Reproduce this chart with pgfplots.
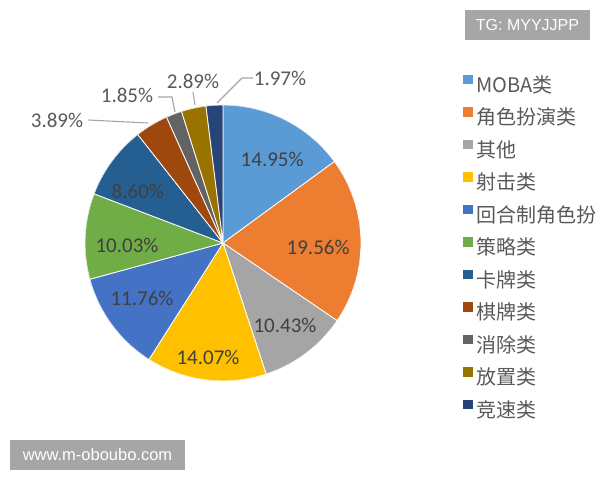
\documentclass[border=0pt]{standalone}
\usepackage{pgfplots}
\pgfplotsset{compat=1.18}
\usepgfplotslibrary{polar}
\usepackage{fontspec}
\setmainfont{Noto Sans CJK SC}
\newfontfamily\carlito{Carlito}
\newfontfamily\arialf{Liberation Sans}
\definecolor{c1}{HTML}{5B9BD5}
\definecolor{c2}{HTML}{ED7D31}
\definecolor{c3}{HTML}{A5A5A5}
\definecolor{c4}{HTML}{FFC000}
\definecolor{c5}{HTML}{4472C4}
\definecolor{c6}{HTML}{70AD47}
\definecolor{c7}{HTML}{255E91}
\definecolor{c8}{HTML}{9E480E}
\definecolor{c9}{HTML}{636363}
\definecolor{c10}{HTML}{997300}
\definecolor{c11}{HTML}{264478}
\definecolor{lbl}{HTML}{404040}
\definecolor{lblo}{HTML}{595959}
\definecolor{leg}{HTML}{595959}
\definecolor{wm}{HTML}{A6A6A6}
\definecolor{leader}{HTML}{A6A6A6}
\gdef\cum{0}
% #1 value (percent), #2 colour, #3 legend text
\newcommand\slice[3]{%
  \pgfmathsetmacro\sa{90-3.6*(\cum+#1)}%
  \pgfmathsetmacro\sb{90-3.6*\cum}%
  \edef\doslice{\noexpand\addplot[fill=#2, draw=white, line width=0.8bp, domain=\sa:\sb, samples=80] {1} -- (axis cs:0,0) -- cycle;}%
  \doslice
  \addlegendentry{#3}
  \pgfmathsetmacro\newcum{\cum+#1}\global\let\cum\newcum
}
\begin{document}
\begin{tikzpicture}[x=1bp,y=1bp]
\useasboundingbox (0,0) rectangle (600,480);
\begin{polaraxis}[
  at={(223bp,237bp)}, anchor=origin,
  scale only axis, width=276bp, height=276bp,
  ymin=0, ymax=1, hide axis,
  legend cell align=left,
  legend image code/.code={\fill[#1,draw=none] (0bp,2.8bp) rectangle (9.5bp,12.3bp);},
  legend style={draw=none, fill=none, inner sep=0pt, at={(1.3696,1.111)}, anchor=north west,
    font=\fontsize{20bp}{23bp}\selectfont, text=leg, row sep=10.7bp, column sep=3.5bp,
    nodes={inner sep=0pt, text height=15bp, text depth=4bp}},
]
\slice{14.95}{c1}{MOBA类}
\slice{19.56}{c2}{角色扮演类}
\slice{10.43}{c3}{其他}
\slice{14.07}{c4}{射击类}
\slice{11.76}{c5}{回合制角色扮}
\slice{10.03}{c6}{策略类}
\slice{8.60}{c7}{卡牌类}
\slice{3.89}{c8}{棋牌类}
\slice{1.85}{c9}{消除类}
\slice{2.89}{c10}{放置类}
\slice{1.97}{c11}{竞速类}
\begin{scope}[every node/.style={font=\carlito\fontsize{21bp}{24bp}\selectfont, text=lbl, inner sep=0pt}]
\node at (axis cs:59.4,0.70) {14.95\%};
\node at (axis cs:-2.4,0.69) {19.56\%};
\node at (axis cs:-52.9,0.745) {10.43\%};
\node at (axis cs:-97.5,0.833) {14.07\%};
\node at (axis cs:-145.8,0.71) {11.76\%};
\node at (axis cs:-178.8,0.696) {10.03\%};
\node at (axis cs:149,0.72) {8.60\%};
\end{scope}
\end{polaraxis}
\draw[leader, line width=1.1bp] (88,360)--(148,357);
\draw[leader, line width=1.1bp] (158,383)--(172,383)--(175,368);
\draw[leader, line width=1.1bp] (193,388)--(195,375);
\draw[leader, line width=1.1bp] (253,402)--(242,402)--(217,377);
\begin{scope}[every node/.style={font=\carlito\fontsize{21bp}{24bp}\selectfont, text=lblo, inner sep=0pt}]
\node at (57,360) {3.89\%};
\node at (127,385) {1.85\%};
\node at (193,399) {2.89\%};
\node at (280,402) {1.97\%};
\end{scope}
\fill[wm] (465,440) rectangle (590,470);
\node[font=\arialf\fontsize{16bp}{19bp}\selectfont, text=white, inner sep=0pt] at (527.5,455) {TG: MYYJJPP};
\fill[wm] (10,10) rectangle (185,40);
\node[font=\arialf\fontsize{16.5bp}{19bp}\selectfont, text=white, inner sep=0pt] at (97.5,25) {www.m-oboubo.com};
\end{tikzpicture}
\end{document}
